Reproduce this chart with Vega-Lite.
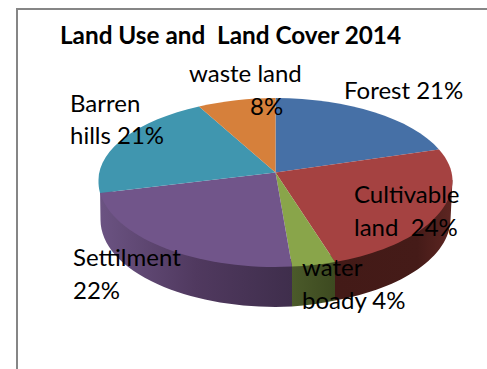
{
  "$schema": "https://vega.github.io/schema/vega-lite/v6.json",
  "width": 475,
  "height": 365,
  "autosize": {"type": "none"},
  "padding": {"left": 17, "top": 9, "right": -5, "bottom": -5},
  "background": "white",
  "view": {"stroke": "#868686", "strokeWidth": 2, "fill": "white"},
  "title": {
    "text": "Land Use and \u00a0Land Cover 2014",
    "anchor": "start",
    "frame": "group",
    "dx": 43,
    "offset": -40,
    "font": "Lato",
    "fontSize": 24.3,
    "fontWeight": "bold",
    "color": "black"
  },
  "data": {
    "values": [
      {"slice": 1, "name": "Forest", "value": 21, "label": "Forest 21%"},
      {"slice": 2, "name": "Cultivable land", "value": 24, "label": "Cultivable\nland \u00a024%"},
      {"slice": 3, "name": "water boady", "value": 4, "label": "water\nboady 4%"},
      {"slice": 4, "name": "Settilment", "value": 22, "label": "Settilment\n22%"},
      {"slice": 5, "name": "Barren hills", "value": 21, "label": "Barren\nhills 21%"},
      {"slice": 6, "name": "waste land", "value": 8, "label": "8%"}
    ]
  },
  "layer": [
    {
      "transform": [{"filter": "datum.slice == 2"}],
      "mark": {
        "type": "point", "filled": true, "opacity": 1, "size": 4,
        "shape": "M198 -11.5 L196 28.5 A175 87 0 0 1 80.5 109 L80.5 63 Z",
        "fill": {"gradient": "linear", "x1": 0, "y1": 0, "x2": 1, "y2": 0, "stops": [{"offset": 0, "color": "#431A17"}, {"offset": 0.7, "color": "#451B18"}, {"offset": 1, "color": "#5E2622"}]}
      },
      "encoding": {}
    },
    {
      "transform": [{"filter": "datum.slice == 3"}],
      "mark": {
        "type": "point", "filled": true, "opacity": 1, "size": 4,
        "shape": "M80.5 63 L80.5 109 A175 87 0 0 1 37.5 115 L37.5 68 Z",
        "fill": {"gradient": "linear", "x1": 0, "y1": 0, "x2": 1, "y2": 0, "stops": [{"offset": 0, "color": "#4B5A2A"}, {"offset": 1, "color": "#3D4A20"}]}
      },
      "encoding": {}
    },
    {
      "transform": [{"filter": "datum.slice == 4"}],
      "mark": {
        "type": "point", "filled": true, "opacity": 1, "size": 4,
        "shape": "M37.5 68 L37.5 115 A175 87 0 0 1 -154 28.5 L-154.5 -5 Z",
        "fill": {"gradient": "linear", "x1": 0, "y1": 0, "x2": 1, "y2": 0, "stops": [{"offset": 0, "color": "#6B5382"}, {"offset": 0.5, "color": "#50395F"}, {"offset": 1, "color": "#3F2E4C"}]}
      },
      "encoding": {}
    },
    {
      "mark": {"type": "point", "filled": true, "opacity": 1, "size": 4},
      "encoding": {
        "shape": {
          "field": "name",
          "type": "nominal",
          "legend": null,
          "scale": {
            "type": "ordinal",
            "domain": ["Forest", "Cultivable land", "water boady", "Settilment", "Barren hills", "waste land"],
            "range": [
              "M21 -19 L21 -93.5 A177 82 0 0 1 184.5 -42 Z",
              "M21 -19 L184.5 -42 A177 82 0 0 1 198 -11.5 A177 87 0 0 1 80.5 70.5 Z",
              "M21 -19 L80.5 70.5 A177 87 0 0 1 37.5 75.1 Z",
              "M21 -19 L37.5 75.1 A177 87 0 0 1 -154.5 1.5 Z",
              "M21 -19 L-154.5 1.5 A177 87 0 0 1 -156 -11.5 A177 82 0 0 1 -55.5 -85 Z",
              "M21 -19 L-55.5 -85 A177 82 0 0 1 21 -93.5 Z"
            ]
          }
        },
        "color": {
          "field": "name",
          "type": "nominal",
          "legend": null,
          "scale": {
            "type": "ordinal",
            "domain": ["Forest", "Cultivable land", "water boady", "Settilment", "Barren hills", "waste land"],
            "range": ["#4670A6", "#A54241", "#89A54A", "#71558A", "#4096AF", "#D6803B"]
          }
        },
        "tooltip": {"field": "value", "type": "quantitative"}
      }
    },
    {
      "mark": {
        "type": "text",
        "align": "left",
        "baseline": "alphabetic",
        "font": "Lato",
        "fontSize": 24,
        "lineBreak": "\n",
        "lineHeight": 32.5,
        "color": "black"
      },
      "encoding": {
        "text": {"field": "label", "type": "nominal"},
        "x": {
          "field": "slice",
          "type": "quantitative",
          "axis": null,
          "scale": {"zero": false, "nice": false, "domain": [1, 2, 3, 4, 5, 6], "range": [327, 337, 285, 56, 53, 233]}
        },
        "y": {
          "field": "slice",
          "type": "quantitative",
          "axis": null,
          "scale": {"zero": false, "nice": false, "domain": [1, 2, 3, 4, 5, 6], "range": [89.7, 194, 267, 257, 102.7, 106]}
        }
      }
    },
    {
      "transform": [{"filter": "datum.slice == 6"}],
      "mark": {
        "type": "text",
        "align": "left",
        "baseline": "alphabetic",
        "font": "Lato",
        "fontSize": 24,
        "color": "black"
      },
      "encoding": {
        "text": {"field": "name", "type": "nominal"},
        "x": {"field": "slice", "type": "quantitative", "axis": null, "scale": {"zero": false, "nice": false, "domain": [1, 6], "range": [0, 172]}},
        "y": {"field": "slice", "type": "quantitative", "axis": null, "scale": {"zero": false, "nice": false, "domain": [1, 6], "range": [0, 72.7]}}
      }
    }
  ],
  "resolve": {"scale": {"shape": "independent", "color": "independent", "x": "independent", "y": "independent"}}
}
